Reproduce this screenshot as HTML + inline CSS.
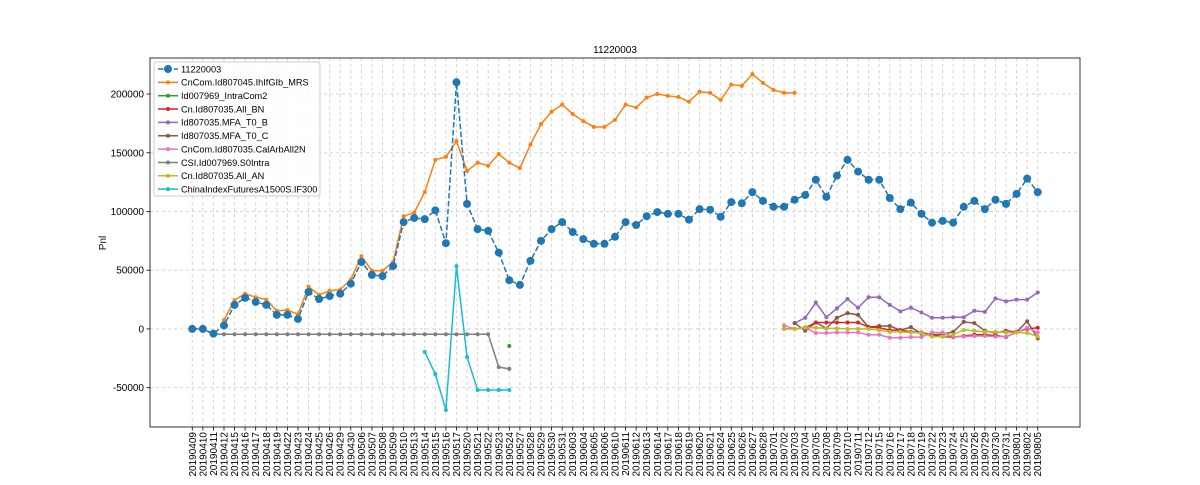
<!DOCTYPE html>
<html><head><meta charset="utf-8"><style>
body{margin:0;background:#fff;}
svg text{font-family:"Liberation Sans",Arial,sans-serif;}
</style></head><body>
<svg id="chart" width="1200" height="480" xmlns="http://www.w3.org/2000/svg">
<rect width="1200" height="480" fill="#fff"/>
<text x="615" y="53" font-size="10" text-anchor="middle">11220003</text>
<text x="0" y="0" font-size="10" text-anchor="middle" transform="translate(106,243) rotate(-90)">Pnl</text>
<g id="grid"></g><g id="series"></g><g id="axes"></g><g id="legend"></g>
</svg>
<script>
const dates=["20190409","20190410","20190411","20190412","20190415","20190416","20190417","20190418","20190419","20190422","20190423","20190424","20190425","20190426","20190429","20190430","20190506","20190507","20190508","20190509","20190510","20190513","20190514","20190515","20190516","20190517","20190520","20190521","20190522","20190523","20190524","20190527","20190528","20190529","20190530","20190531","20190603","20190604","20190605","20190606","20190610","20190611","20190612","20190613","20190614","20190617","20190618","20190619","20190620","20190621","20190624","20190625","20190626","20190627","20190628","20190701","20190702","20190703","20190704","20190705","20190708","20190709","20190710","20190711","20190712","20190715","20190716","20190717","20190718","20190719","20190722","20190723","20190724","20190725","20190726","20190729","20190730","20190731","20190801","20190802","20190805"];
const yTicks=[-50000,0,50000,100000,150000,200000];
const seriesNames=["11220003","CnCom.Id807045.IhIfGIb_MRS","Id007969_IntraCom2","Cn.Id807035.All_BN","Id807035.MFA_T0_B","Id807035.MFA_T0_C","CnCom.Id807035.CalArbAll2N","CSI.Id007969.S0Intra","Cn.Id807035.All_AN","ChinaIndexFuturesA1500S.IF300"];
const sMain=[0,0,-4000,3000,20500,26500,23000,20500,12000,12000,8500,31500,25500,28000,30000,38500,57000,46000,45000,53500,91000,94500,93500,101000,73000,210000,106500,85000,83500,65000,41500,37500,58000,75000,85000,91000,82500,76500,72500,72500,78500,91000,88500,96000,99500,98000,98000,93000,102000,101500,95500,108000,107000,116500,109000,104000,104000,110000,114000,127000,112500,130500,144000,134000,127000,127000,111500,102000,107500,98000,90500,92000,90500,104000,109000,102000,110000,106500,115000,128000,116500];
const sMRS=[null,null,null,7500,24500,30000,27000,25000,15500,16000,12500,36000,29000,32500,33500,42000,62000,49500,49500,57000,96000,99000,116500,144000,146500,160000,134500,141500,139000,149000,141500,137000,157000,174500,185000,191000,183000,177000,172000,172000,178000,191000,188500,197000,200000,198500,197500,193500,202000,201000,195000,208000,207000,217000,209500,203500,201000,201000];
const sIntraCom2={30:-14500};
const sAllBN56=[0,0,1000,5500,5500,5500,5500,5500,1500,1000,-1000,-1000,-2500,-3000,-5000,-6500,-7000,-6000,-5000,-5000,-5500,-7000,-2500,0,1000];
const sMfaB57=[5000,9500,22500,10000,17500,25500,18000,27000,27000,20500,15000,18000,14000,9500,9500,10000,10000,15500,14500,26000,23500,25000,25000,31000];
const sMfaC57=[5000,-1500,5500,500,9500,13500,12000,1500,2500,2500,-1000,1500,-4000,-5000,-4500,-2500,6000,5000,-1500,-3500,-1500,-2500,6500,-8000];
const sCalArb56=[3000,0,1000,-3500,-3500,-3000,-3000,-3000,-5000,-5000,-7500,-7500,-7000,-7000,-3000,-3000,-6500,-6500,-6000,-6000,-6500,-6500,-3000,1000,-3000];
const sS0Intra=[0,0,-4500,-4500,-4500,-4500,-4500,-4500,-4500,-4500,-4500,-4500,-4500,-4500,-4500,-4500,-4500,-4500,-4500,-4500,-4500,-4500,-4500,-4500,-4500,-4500,-4500,-4500,-4500,-32500,-34000];
const sAllAN56=[0,0,1500,1000,500,500,0,0,0,-1000,-2500,-2500,-3000,-3500,-6500,-6500,-5000,-1000,-1500,-2500,-2500,-3000,-3000,-3500,-6500];
const sIF300_22=[-19500,-38500,-69000,53500,-24000,-52000,-52000,-52000,-52000];

const X0=150,X1=1080,Y0=58,Y1=427,xmin=-4,xmax=84,ymin=-83500,ymax=230700;
const xs=i=>X0+(i-xmin)/(xmax-xmin)*(X1-X0);
const ys=v=>Y1-(v-ymin)/(ymax-ymin)*(Y1-Y0);
const NS="http://www.w3.org/2000/svg";
function mk(t,a,p){const e=document.createElementNS(NS,t);for(const k in a)e.setAttribute(k,a[k]);p.appendChild(e);return e;}
const grid=document.getElementById('grid'),axes=document.getElementById('axes'),ser=document.getElementById('series'),leg=document.getElementById('legend');
dates.forEach((d,i)=>{
 const x=xs(i);
 const g=mk('line',{x1:x,x2:x,y1:Y0,y2:Y1,stroke:'#d4d4d4','stroke-width':1,'stroke-dasharray':'3,3'},grid);
 
 
 const tk=mk('line',{x1:x,x2:x,y1:Y1,y2:Y1+3.5,stroke:'#000','stroke-width':0.8},axes);
 
 
 const t=mk('text',{x:0,y:0,'font-size':10,'text-anchor':'end',transform:`translate(${x+3.5},${Y1+5}) rotate(-90)`},axes);
 t.textContent=d;
 
 
});
yTicks.forEach(v=>{
 const y=ys(v);
 const g=mk('line',{x1:X0,x2:X1,y1:y,y2:y,stroke:'#d4d4d4','stroke-width':1,'stroke-dasharray':'3,3'},grid);
 
 
 const tk=mk('line',{x1:X0-3.5,x2:X0,y1:y,y2:y,stroke:'#000','stroke-width':0.8},axes);
 
 
 const t=mk('text',{x:X0-6,y:y+3.5,'font-size':10,'text-anchor':'end'},axes);
 t.textContent=String(v);
 
 
});
const fr=mk('rect',{x:X0,y:Y0,width:X1-X0,height:Y1-Y0,fill:'none',stroke:'#000','stroke-width':0.8},axes);


const colors=['#1f77b4','#ff7f0e','#2ca02c','#d62728','#9467bd','#8c564b','#e377c2','#7f7f7f','#bcbd22','#17becf'];
function toPts(arr,off){const p=[];arr.forEach((v,i)=>{if(v!==null&&v!==undefined)p.push([xs(i+off),ys(v)]);});return p;}
function draw(pts,c,name,big){
 const g=mk('g',{},ser);
 
 
 if(pts.length>1){mk('polyline',{points:pts.map(p=>p.join(',')).join(' '),fill:'none',stroke:c,'stroke-width':1.5,'stroke-dasharray':big?'5.5,2.4':'none'},g);}
 pts.forEach(p=>{const m=mk('circle',{cx:p[0],cy:p[1],r:big?4:2,fill:c},g);
  
  });
}
draw(toPts(sS0Intra,0),colors[7],'series-s0intra');
draw(toPts(sIF300_22,22),colors[9],'series-if300');
draw([[xs(30),ys(sIntraCom2[30])]],colors[2],'series-intracom2');
draw(toPts(sMRS,0),colors[1],'series-mrs');
draw(toPts(sMfaB57,57),colors[4],'series-mfa-t0-b');
draw(toPts(sMfaC57,57),colors[5],'series-mfa-t0-c');
draw(toPts(sAllBN56,56),colors[3],'series-all-bn');
draw(toPts(sCalArb56,56),colors[6],'series-calarb');
draw(toPts(sAllAN56,56),colors[8],'series-all-an');
draw(toPts(sMain,0),colors[0],'series-11220003',true);
const lb=mk('rect',{x:154,y:62,width:166,height:134,rx:2,fill:'#fff','fill-opacity':0.85,stroke:'#ccc','stroke-width':1},leg);


seriesNames.forEach((n,i)=>{
 const y=69+i*13.35;
 const g=mk('g',{},leg);
 
 
 mk('line',{x1:158,x2:178,y1:y,y2:y,stroke:colors[i],'stroke-width':1.5,'stroke-dasharray':i===0?'5.5,2.4':'none'},g);
 mk('circle',{cx:168,cy:y,r:i===0?4:2,fill:colors[i]},g);
 const t=mk('text',{x:181,y:y+3.3,'font-size':9.2},g);
 t.textContent=n;
});
</script>
</body></html>
